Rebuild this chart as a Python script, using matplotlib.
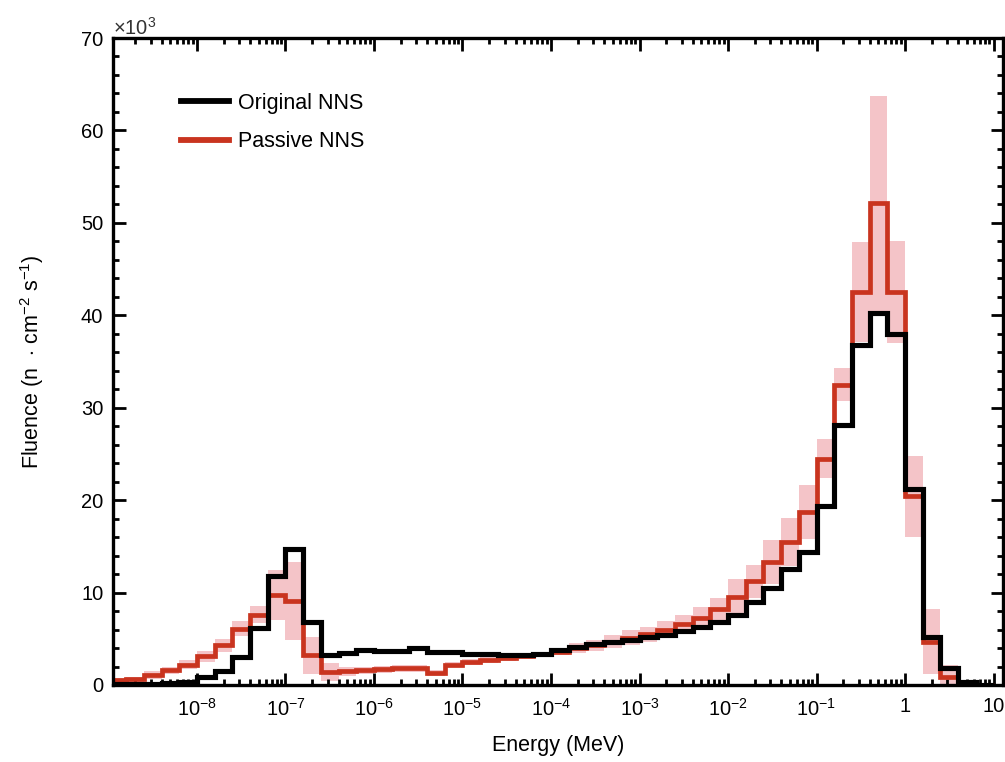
import numpy as np
import matplotlib
matplotlib.use("Agg")
import matplotlib.pyplot as plt
from matplotlib.ticker import LogLocator, FixedLocator, MultipleLocator, FuncFormatter, NullFormatter

plt.rcParams['font.family'] = ['Liberation Sans', 'DejaVu Sans']
plt.rcParams['mathtext.fontset'] = 'custom'
plt.rcParams['mathtext.rm'] = 'Liberation Sans'
plt.rcParams['mathtext.it'] = 'Liberation Sans:italic'
plt.rcParams['mathtext.bf'] = 'Liberation Sans:bold'

# Bin edges: 5 log-spaced bins per decade from 1e-9 to 10 MeV
edge_exponents = np.arange(-45, 6) / 5.0
edges = 10.0 ** edge_exponents

# Fluence values (x10^3 n cm^-2 s^-1), one per bin
original_nns = [0.1, 0.1, 0.15, 0.25, 0.35, 0.9, 1.5, 3.0, 6.2, 11.8,
                14.7, 6.8, 3.2, 3.5, 3.8, 3.7, 3.7, 4.0, 3.6, 3.6,
                3.4, 3.4, 3.25, 3.25, 3.4, 3.8, 4.1, 4.4, 4.6, 4.9,
                5.2, 5.4, 5.8, 6.3, 6.8, 7.6, 9.0, 10.5, 12.6, 14.4,
                19.4, 28.1, 36.8, 40.2, 38.0, 21.2, 5.2, 1.8, 0.3, 0.0]

passive_nns = [0.5, 0.6, 1.1, 1.6, 2.2, 3.1, 4.3, 6.1, 7.6, 9.7,
               9.1, 3.2, 1.4, 1.5, 1.6, 1.7, 1.8, 1.8, 1.3, 2.2,
               2.5, 2.7, 2.9, 3.1, 3.3, 3.6, 4.0, 4.3, 4.7, 5.1,
               5.5, 6.0, 6.6, 7.3, 8.2, 9.5, 11.2, 13.3, 15.5, 18.7,
               24.5, 32.5, 42.5, 52.1, 42.5, 20.4, 4.7, 0.9, 0.2, 0.0]

passive_err = [0.3, 0.3, 0.4, 0.4, 0.5, 0.6, 0.7, 0.8, 0.9, 2.7,
               4.2, 2.0, 1.0, 0.5, 0.4, 0.4, 0.4, 0.4, 0.3, 0.3,
               0.3, 0.3, 0.3, 0.3, 0.3, 0.4, 0.5, 0.6, 0.7, 0.8,
               0.8, 0.9, 1.0, 1.1, 1.2, 2.0, 1.8, 2.4, 2.6, 2.9,
               2.1, 1.8, 5.4, 11.6, 5.5, 4.4, 3.5, 1.3, 0.3, 0.0]

x_tick_exponents = [-8, -7, -6, -5, -4, -3, -2, -1, 0, 1]

orig = np.array(original_nns)
pas = np.array(passive_nns)
err = np.array(passive_err)

fig = plt.figure(figsize=(10.05, 7.62), dpi=100)
ax = fig.add_axes([113/1005, 1-685/762, (1003-113)/1005, (685-38)/762])

lo = np.clip(pas - err, 0, None)
hi = pas + err
ax.fill_between(edges, np.append(lo, lo[-1]), np.append(hi, hi[-1]),
                step='post', color='#f4c4c8', linewidth=0, zorder=1)

ax.stairs(pas, edges, color='#c9341f', linewidth=3.4, baseline=None, zorder=2,
          label='Passive NNS')
ax.stairs(orig, edges, color='black', linewidth=3.7, baseline=None, zorder=3,
          label='Original NNS')

ax.set_xscale('log')
ax.set_xlim(10**((113-905)/88.5), 10**((1003-905)/88.5))
ax.set_ylim(0, 70)

ax.xaxis.set_major_locator(FixedLocator([10.0**k for k in x_tick_exponents]))
def fmt(v, pos):
    k = int(round(np.log10(v)))
    if k == 0:
        return '1'
    if k == 1:
        return '10'
    return r'$10^{%d}$' % k
ax.xaxis.set_major_formatter(FuncFormatter(fmt))
ax.xaxis.set_minor_locator(LogLocator(base=10, subs=np.arange(2, 10), numticks=100))
ax.xaxis.set_minor_formatter(NullFormatter())
ax.yaxis.set_major_locator(MultipleLocator(10))
ax.yaxis.set_minor_locator(MultipleLocator(2))

ax.tick_params(which='both', direction='in', top=True, right=True, labelsize=14.5,
               width=2.0, colors='black')
ax.tick_params(which='major', length=9)
ax.tick_params(which='minor', length=4.5)
ax.tick_params(axis='x', which='major', pad=9)
ax.tick_params(axis='y', which='major', pad=7)
for s in ax.spines.values():
    s.set_linewidth(2.4)

ax.text(0.0, 0.998, r'$\times10^{3}$', transform=ax.transAxes, fontsize=14.5,
        ha='left', va='bottom', color='#333333')

ax.set_xlabel('Energy (MeV)', fontsize=15.5, labelpad=11)
ax.set_ylabel(r'Fluence (n  $\cdot$ cm$^{-2}$ s$^{-1}$)', fontsize=15.5, labelpad=25)

h, l = ax.get_legend_handles_labels()
leg = ax.legend(h[::-1], l[::-1], loc='upper left', bbox_to_anchor=(0.055, 0.945),
                frameon=False, fontsize=15.5, handlelength=2.2, handletextpad=0.45,
                labelspacing=0.8)
for line in leg.get_lines():
    line.set_linewidth(4.2)

fig.savefig('out.png', dpi=100)
